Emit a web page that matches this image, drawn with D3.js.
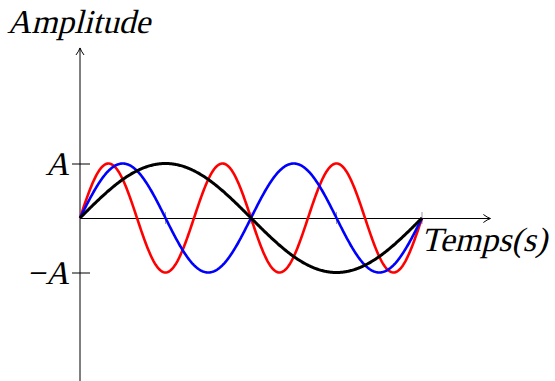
<!DOCTYPE html>
<html>
<head>
<meta charset="utf-8">
<script src="https://cdn.jsdelivr.net/npm/d3@7"></script>
<style>
  html, body { margin: 0; padding: 0; background: #fff; }
</style>
</head>
<body>
<svg id="chart" width="555" height="381"></svg>
<script>
// Harmonics of a sine wave over one fundamental period
const harmonics = [3, 2, 1];
const harmonicColors = ["#ff0000", "#0000ff", "#000000"];
const harmonicWidths = [2.6, 2.6, 3];
const amplitude = 1;
const xTicks = [0.25, 0.5, 0.75, 1];
const yTicks = [1, -1];
const yTickLabels = ["A", "\u2212A"];
const xLabel = "Temps(s)";
const yLabel = "Amplitude";

const FONT = "Liberation Serif";
const SLANT = -14; // oblique slant for math-style labels

const svg = d3.select("#chart");
const x = d3.scaleLinear().domain([0, 1]).range([80, 422]);
const y = d3.scaleLinear().domain([-1, 1]).range([272.5, 163.5]);

// Slanted serif label anchored at its baseline
function mathText(parent, px, py, str, anchor, size) {
  const g = parent.append("g")
    .attr("transform", `translate(${px},${py}) skewX(${SLANT})`);
  g.append("text")
    .attr("x", 0).attr("y", 0)
    .attr("text-anchor", anchor || "start")
    .style("font-family", FONT)
    .attr("font-size", size || 33)
    .text(str);
  return g;
}

// Arrow head in TikZ "->" style
const defs = svg.append("defs");
defs.append("marker")
  .attr("id", "arrow")
  .attr("viewBox", "0 0 10 10")
  .attr("refX", 9).attr("refY", 5)
  .attr("markerWidth", 10).attr("markerHeight", 10)
  .attr("markerUnits", "userSpaceOnUse")
  .attr("orient", "auto")
  .append("path")
  .attr("d", "M2,1 Q6,4 9,5 Q6,6 2,9")
  .attr("fill", "none")
  .attr("stroke", "#000")
  .attr("stroke-width", 1);

// x-axis ticks (grey, unlabelled)
svg.append("g").selectAll("line").data(xTicks).join("line")
  .attr("x1", d => x(d)).attr("x2", d => x(d))
  .attr("y1", y(0) - 6).attr("y2", y(0) + 6)
  .attr("stroke", "#999").attr("stroke-width", 1);

// axes
svg.append("line")
  .attr("x1", x(0)).attr("y1", y(0) + 0.5)
  .attr("x2", x(1.2)).attr("y2", y(0) + 0.5)
  .attr("stroke", "#000").attr("stroke-width", 1)
  .attr("marker-end", "url(#arrow)");
svg.append("line")
  .attr("x1", x(0)).attr("y1", y(-3) + 1)
  .attr("x2", x(0)).attr("y2", y(3.12))
  .attr("stroke", "#000").attr("stroke-width", 1)
  .attr("marker-end", "url(#arrow)");

// y-axis ticks and labels
const yt = svg.append("g");
yt.selectAll("line").data(yTicks).join("line")
  .attr("x1", x(0) - 8).attr("x2", x(0) + 10)
  .attr("y1", d => y(d) + 0.5).attr("y2", d => y(d) + 0.5)
  .attr("stroke", "#000").attr("stroke-width", 1);
yTicks.forEach((d, i) => mathText(yt, x(0) - 11, y(d) + 11, yTickLabels[i], "end"));

// curves
const samples = d3.range(0, 1.0001, 0.0025);
const line = d3.line().x(d => x(d[0])).y(d => y(d[1]));
svg.append("g").selectAll("path").data(harmonics).join("path")
  .attr("d", h => line(samples.map(t => [t, amplitude * Math.sin(2 * Math.PI * h * t)])))
  .attr("fill", "none")
  .attr("stroke", (h, i) => harmonicColors[i])
  .attr("stroke-width", (h, i) => harmonicWidths[i])
  .attr("stroke-linejoin", "round");

// axis titles
mathText(svg, 7, 33, yLabel, "start", 33.5);
mathText(svg, 421, 251, xLabel, "start", 34);
</script>
</body>
</html>
